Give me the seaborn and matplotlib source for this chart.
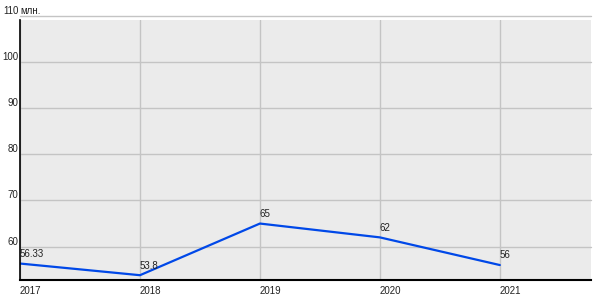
import matplotlib
matplotlib.use("Agg")
import matplotlib.pyplot as plt
import seaborn as sns
import pandas as pd

years = [2017, 2018, 2019, 2020, 2021]
values = [56.33, 53.8, 65, 62, 56]
labels = ["56.33", "53.8", "65", "62", "56"]
yticks = [60, 70, 80, 90, 100, 110]
unit = "млн."

sns.set_theme(style="white")
plt.rcParams['font.family'] = ['Liberation Sans', 'DejaVu Sans']

df = pd.DataFrame({"year": years, "value": values})

fig = plt.figure(figsize=(6, 3), dpi=100)
ax = fig.add_axes([20/600, 20/300, 571/600, 260/300])
ax.set_facecolor("#ebebeb")

sns.lineplot(data=df, x="year", y="value", ax=ax, color="#0048e8", linewidth=1.6)

ax.set_xlim(2017, 2021.76)
ax.set_ylim(52.76, 109.13)

for yt in yticks:
    ax.axhline(yt, color="#c4c4c4", linewidth=1, zorder=0, clip_on=False)
    lbl = f"{yt}" if yt != 110 else f"{yt}"
    ax.text(-0.3/600*0 + 0, 0, "", transform=ax.transAxes)
for yr in years:
    ax.axvline(yr, color="#c4c4c4", linewidth=1, zorder=0)

ax.set_xticks([])
ax.set_yticks([])
ax.set_xlabel("")
ax.set_ylabel("")

import matplotlib.transforms as mtransforms
trans_y = mtransforms.blended_transform_factory(ax.transAxes, ax.transData)
for yt in yticks:
    ax.text(-0.003, yt, str(yt), transform=trans_y, ha="right", va="bottom",
            fontsize=7, color="#222222", clip_on=False)
ax.text(0.0, 110, unit, transform=trans_y, ha="left", va="bottom",
        fontsize=7, color="#222222", clip_on=False)

trans_x = mtransforms.blended_transform_factory(ax.transData, ax.transAxes)
for yr in years:
    ax.text(yr, -0.025, str(yr), transform=trans_x, ha="left", va="top",
            fontsize=7, color="#222222", clip_on=False)

for yr, v, l in zip(years, values, labels):
    ax.text(yr, v + 1.0, l, ha="left", va="bottom", fontsize=7, color="#222222")

for side in ["top", "right"]:
    ax.spines[side].set_visible(False)
ax.spines["left"].set_color("black")
ax.spines["bottom"].set_color("black")
ax.spines["left"].set_linewidth(1.2)
ax.spines["bottom"].set_linewidth(1.5)

fig.savefig("out.png", dpi=100, facecolor="white")
